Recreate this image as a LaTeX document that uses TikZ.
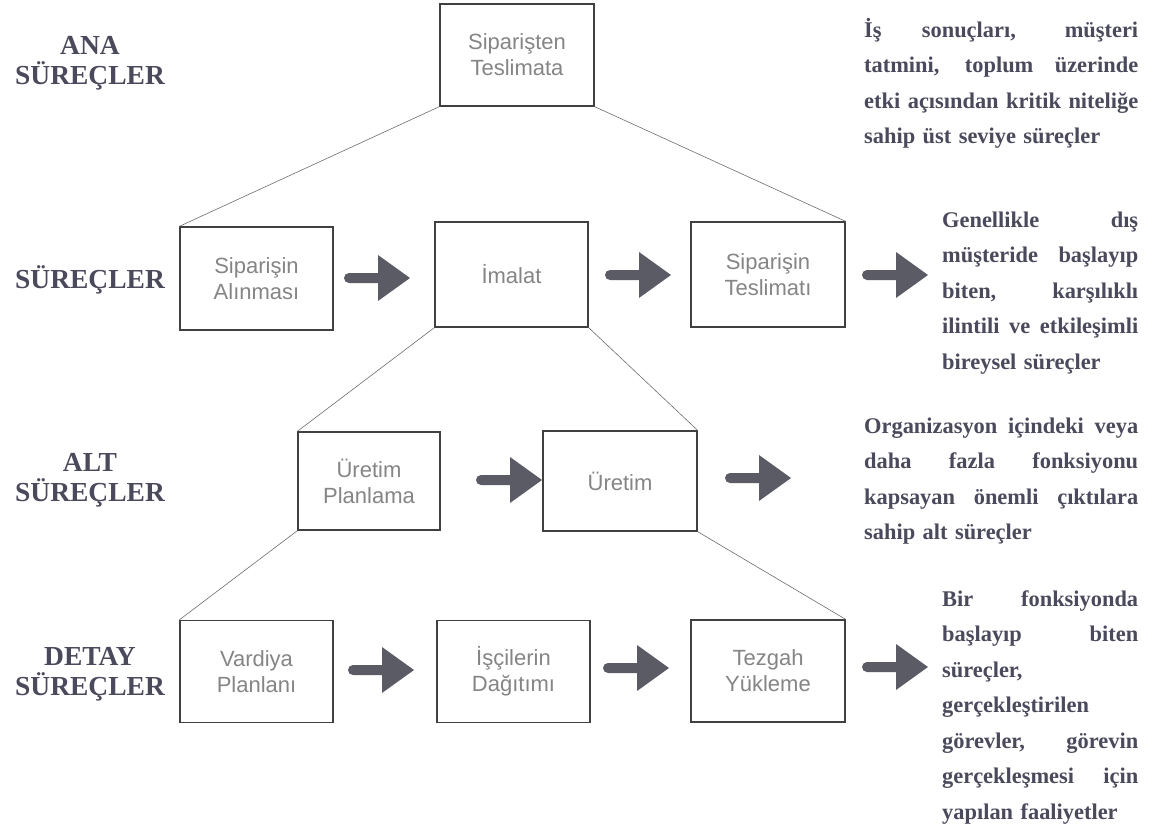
\documentclass[tikz,border=0pt]{standalone}
\usepackage{fontspec}
\setmainfont{Liberation Serif}
\newfontfamily\boxfont{Liberation Sans}

\definecolor{ink}{HTML}{4A4A5C}
\definecolor{frame}{HTML}{404040}
\definecolor{boxtext}{HTML}{858585}
\definecolor{arrowfill}{HTML}{5B5B66}
\definecolor{wire}{HTML}{6E6E6E}

% a line whose interword spaces stretch to the width of its note
\newcommand\notewidth{0pt}
\newcommand\jline[1]{\leavevmode\hbox to \notewidth{\spaceskip=0.25em plus 1fil\relax #1}}
% fixes the height of the first line, so the node top sits 20pt above its baseline
\newcommand\topline{\leavevmode\vrule height 20pt width 0pt\relax}

\tikzset{
  procbox/.style={draw=frame, line width=1.3pt, inner sep=0pt,
    minimum width=153pt, minimum height=102pt, align=center,
    font=\boxfont\fontsize{22}{26}\selectfont, text=boxtext},
  level/.style={font=\bfseries\fontsize{27.5}{30}\selectfont, text=ink, align=center},
  note/.style={font=\bfseries\fontsize{22.4}{35.5}\selectfont, text=ink,
    align=left, anchor=north west, inner sep=0pt, text width=#1,
    execute at begin node={\renewcommand\notewidth{#1}}},
  link/.style={draw=wire, line width=0.6pt},
  pics/fatarrow/.style={code={
    \fill[arrowfill] (-28pt,-5pt) -- (1pt,-5pt) -- (1pt,-23pt) -- (33pt,0pt)
      -- (1pt,23pt) -- (1pt,5pt) -- (-28pt,5pt)
      arc[start angle=90, end angle=270, radius=5pt] -- cycle;}},
}

\begin{document}
\begin{tikzpicture}[x=1pt, y=-1pt]
\useasboundingbox (0,0) rectangle (1160,832);
\fill[white] (0,0) rectangle (1160,832);

% level captions
\node[level] (lvlmain) at (90,63) {ANA\\SÜREÇLER};
\node[level] (lvlproc) at (90,280) {SÜREÇLER};
\node[level] (lvlsub)  at (90,480) {ALT\\SÜREÇLER};
\node[level] (lvldet)  at (90,674) {DETAY\\SÜREÇLER};

% process boxes
\node[procbox, minimum width=154pt] (top) at (517,55) {Siparişten\\Teslimata};

\node[procbox, minimum height=103pt] (order) at (256.5,278.5) {Siparişin\\Alınması};
\node[procbox, minimum height=105pt] (make)  at (511.5,274.5) {İmalat};
\node[procbox, minimum width=154pt, minimum height=105pt] (deliver) at (768,274.5) {Siparişin\\Teslimatı};

\node[procbox, minimum width=142pt, minimum height=98pt] (plan) at (369,481) {Üretim\\Planlama};
\node[procbox, minimum width=154pt, minimum height=100pt] (prod) at (620,481) {Üretim};

\node[procbox] (shift)  at (256.5,671.5) {Vardiya\\Planlanı};
\node[procbox] (crew)   at (513.5,671.5) {İşçilerin\\Dağıtımı};
\node[procbox, minimum width=154pt] (bench) at (768,671) {Tezgah\\Yükleme};

% decomposition lines
\draw[link] (top.south west) -- (order.north west);
\draw[link] (top.south east) -- (deliver.north east);
\draw[link] (make.south west) -- (plan.north west);
\draw[link] (make.south east) -- (prod.north east);
\draw[link] (plan.south west) -- (shift.north west);
\draw[link] (prod.south east) -- (bench.north east);

% flow arrows
\pic at (377,278) {fatarrow};
\pic at (638,275) {fatarrow};
\pic at (895,275) {fatarrow};
\pic at (509,480) {fatarrow};
\pic at (758,478) {fatarrow};
\pic at (381,670) {fatarrow};
\pic at (636,668) {fatarrow};
\pic at (895,667) {fatarrow};

% descriptions
\node[note=274pt] (dmain) at (864,17) {%
  \topline\jline{İş sonuçları, müşteri}\\
  \jline{tatmini, toplum üzerinde}\\
  \jline{etki açısından kritik niteliğe}\\
  sahip üst seviye süreçler};
\node[note=196pt] (dproc) at (942,207) {%
  \topline\jline{Genellikle dış}\\
  \jline{müşteride başlayıp}\\
  \jline{biten, karşılıklı}\\
  \jline{ilintili ve etkileşimli}\\
  bireysel süreçler};
\node[note=274pt] (dsub) at (864,413) {%
  \topline\jline{Organizasyon içindeki veya}\\
  \jline{daha fazla fonksiyonu}\\
  \jline{kapsayan önemli çıktılara}\\
  sahip alt süreçler};
\node[note=196pt] (ddet) at (942,586) {%
  \topline\jline{Bir fonksiyonda}\\
  \jline{başlayıp biten}\\
  süreçler,\\
  gerçekleştirilen\\
  \jline{görevler, görevin}\\
  \jline{gerçekleşmesi için}\\
  yapılan faaliyetler};
\end{tikzpicture}
\end{document}
